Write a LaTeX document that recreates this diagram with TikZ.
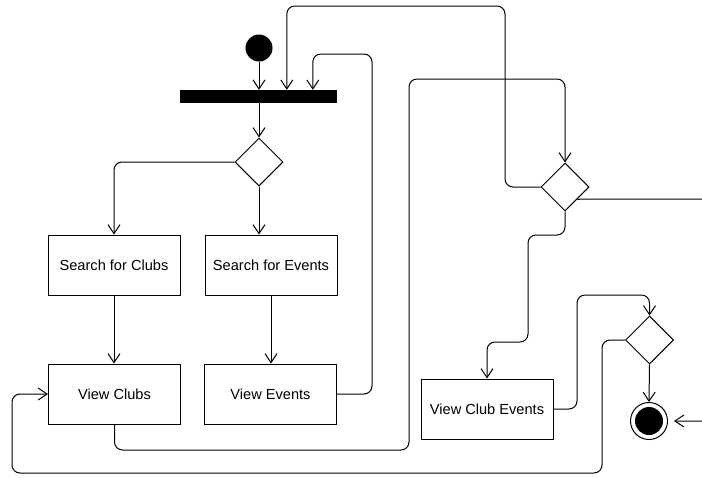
\documentclass[tikz,border=0pt]{standalone}
\usepackage{fontspec}
\setmainfont{Liberation Sans}
\usetikzlibrary{arrows.meta,shapes.geometric}
\begin{document}
\begin{tikzpicture}[x=1pt,y=-1pt,
  every node/.style={font=\fontsize{14.6}{16}\selectfont},
  act/.style={draw,line width=1pt,rectangle,minimum width=132pt,minimum height=60pt,inner sep=0pt},
  dec/.style={draw,line width=1pt,diamond,minimum width=48pt,minimum height=48pt,inner sep=0pt,aspect=1},
  conn/.style={line width=1pt,rounded corners=8pt},
  arr/.style={conn,-{Straight Barb[length=9pt,width=12pt,line width=1pt]}}]
\useasboundingbox (0,0) rectangle (702,477);
\clip (0,0) rectangle (702,477);
% nodes
\node[circle,fill=black,minimum size=27pt,inner sep=0pt] (start) at (259,48) {};
\node[rectangle,fill=black,minimum width=157pt,minimum height=13pt,inner sep=0pt] (bar) at (258.5,96.5) {};
\node[dec] (d1) at (259,162) {};
\node[act] (sfc) at (114,265) {Search for Clubs};
\node[act] (sfe) at (271,265) {Search for Events};
\node[act] (vc) at (114.5,394) {View Clubs};
\node[act] (ve) at (270.5,394) {View Events};
\node[dec] (d2) at (565,187) {};
\node[act] (vce) at (487,409) {View Club Events};
\node[dec] (d3) at (649.5,340) {};
\node[circle,draw,line width=1pt,minimum size=37pt,inner sep=0pt] (end) at (649,421) {};
\node[circle,fill=black,minimum size=28pt,inner sep=0pt] (endin) at (649,421) {};
% connectors
\draw[arr] (start) -- (start |- bar.north);
\draw[arr] (bar.south -| d1.north) -- (d1.north);
\draw[arr] (d1.west) -| (sfc.north);
\draw[arr] (d1.south) -- (d1.south |- sfe.north);
\draw[arr] (sfc.south) -- (sfc.south |- vc.north);
\draw[arr] (sfe.south) -- (sfe.south |- ve.north);
\draw[arr] (ve.east) -| (372,54) -| ([xshift=133pt]bar.north west);
\draw[arr] (vc.south) |- (409,450) |- (565,79) -- (d2.north);
\draw[arr] (d2.west) -| (505,6) -| ([xshift=107pt]bar.north west);
\draw[arr,shorten >=6pt] (d2.south east) -- (720,199) -- (720,421) -- (end.east);
\draw[arr] (d2.south) |- (528,235) |- (487,342) -- (vce.north);
\draw[arr] (vce.east) -| (577,295) -| (d3.north);
\draw[arr] (d3.south) -- (end.north);
\draw[arr] (d3.west) -| (602,473) -| (12,394) -- (vc.west);
\end{tikzpicture}
\end{document}
